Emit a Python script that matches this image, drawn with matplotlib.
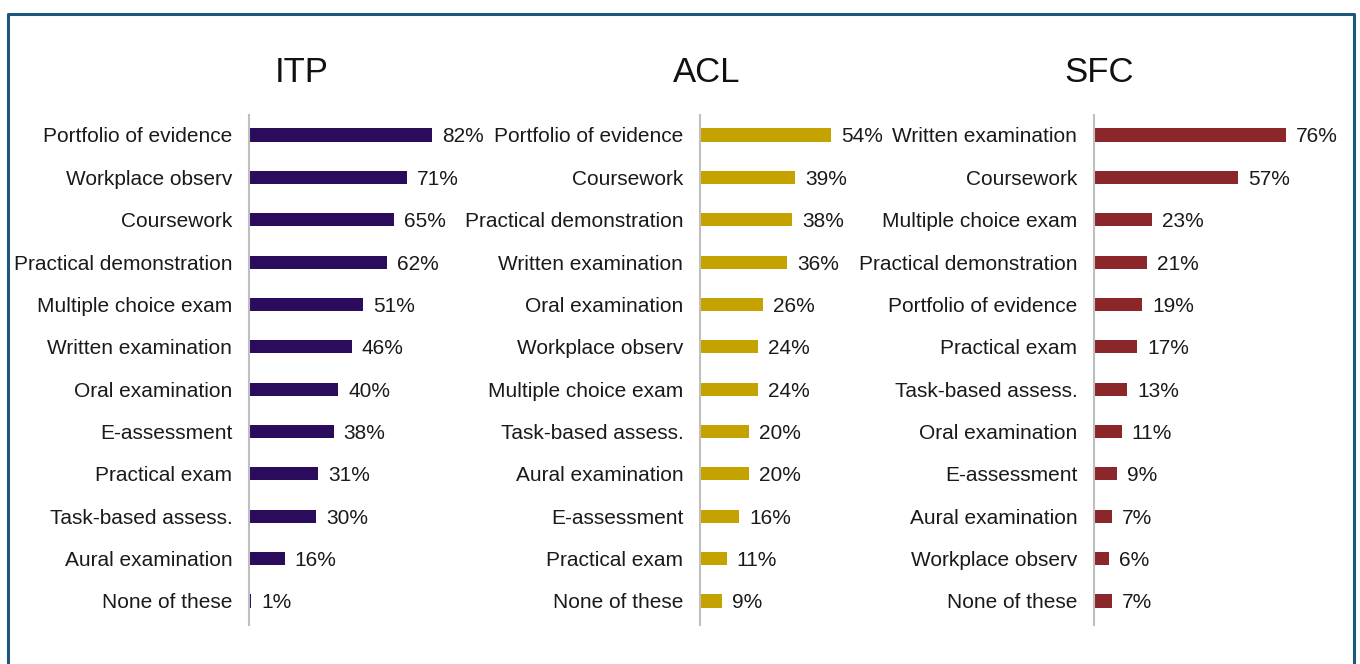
import matplotlib.pyplot as plt
from matplotlib.lines import Line2D

plt.rcParams['font.family'] = ['Liberation Sans', 'DejaVu Sans']

# ------------------------ data ----------------------------
itp_labels = ["Portfolio of evidence", "Workplace observ", "Coursework",
              "Practical demonstration", "Multiple choice exam", "Written examination",
              "Oral examination", "E-assessment", "Practical exam",
              "Task-based assess.", "Aural examination", "None of these"]
itp_values = [82, 71, 65, 62, 51, 46, 40, 38, 31, 30, 16, 1]

acl_labels = ["Portfolio of evidence", "Coursework", "Practical demonstration",
              "Written examination", "Oral examination", "Workplace observ",
              "Multiple choice exam", "Task-based assess.", "Aural examination",
              "E-assessment", "Practical exam", "None of these"]
acl_values = [54, 39, 38, 36, 26, 24, 24, 20, 20, 16, 11, 9]

sfc_labels = ["Written examination", "Coursework", "Multiple choice exam",
              "Practical demonstration", "Portfolio of evidence", "Practical exam",
              "Task-based assess.", "Oral examination", "E-assessment",
              "Aural examination", "Workplace observ", "None of these"]
sfc_values = [76, 57, 23, 21, 19, 17, 13, 11, 9, 7, 6, 7]

W, H = 1360, 664
fig = plt.figure(figsize=(W / 100, H / 100), dpi=100)

# panel: (title, labels, values, colour, axis x px, px per %, title centre px)
panels = [
    ("ITP", itp_labels, itp_values, "#2A0B5C", 249, 2.23, 302),
    ("ACL", acl_labels, acl_values, "#C4A200", 700, 2.43, 707),
    ("SFC", sfc_labels, sfc_values, "#8B262B", 1094, 2.53, 1099),
]

top_px, bot_px = 115, 625   # extent of the vertical axis line
first_c, last_c = 135, 601  # centres of first / last bars
fs = 15

for title, labels, values, col, x0, ppu, tx in panels:
    n = len(labels)
    width_px = 100 * ppu
    ax = fig.add_axes([x0 / W, 1 - bot_px / H, width_px / W, (bot_px - top_px) / H])
    step = (last_c - first_c) / (n - 1)
    # y range in data units so bar centres land at the right pixels
    ylo = (n - 1) + (bot_px - last_c) / step
    yhi = -(first_c - top_px) / step
    ax.set_ylim(ylo, yhi)
    ax.set_xlim(0, 100)
    ypos = list(range(n))
    ax.barh(ypos, values, height=0.31, color=col)
    for y, v in zip(ypos, values):
        ax.text(v + 10 / ppu, y, f"{v}%", va="center_baseline", ha="left",
                fontsize=fs, color="#1A1A1A")
    ax.set_yticks(ypos)
    ax.set_yticklabels(labels, fontsize=fs, color="#1A1A1A")
    ax.tick_params(axis="y", length=0, pad=12)
    ax.set_xticks([])
    for s in ["top", "right", "bottom"]:
        ax.spines[s].set_visible(False)
    ax.spines["left"].set_color("#BFBFBF")
    ax.spines["left"].set_linewidth(1.5)
    fig.text(tx / W, 1 - 73 / H, title, ha="center", va="center", fontsize=25, color="#111111")

# outer frame (no bottom edge visible)
fc = "#1C577D"
xl, xr, yt = 7.5 / W, 1354 / W, 1 - 14 / H
fig.add_artist(Line2D([xl, xl, xr, xr], [0, yt, yt, 0], color=fc, linewidth=2.2,
                      transform=fig.transFigure))

fig.savefig("out.png", dpi=100)
